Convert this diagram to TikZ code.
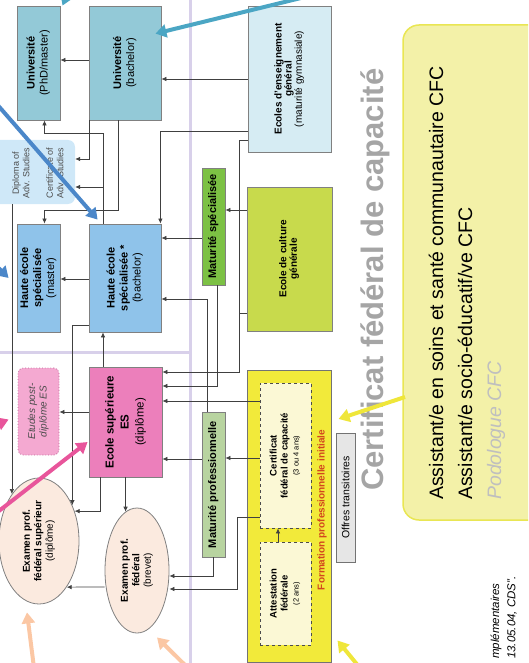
\documentclass[tikz,border=0pt]{standalone}
\usepackage{fontspec}
\setmainfont{Liberation Sans}
\usetikzlibrary{arrows.meta,shapes.geometric}
\definecolor{unicol}{HTML}{93C9D7}
\definecolor{egcol}{HTML}{D6ECF3}
\definecolor{hescol}{HTML}{8FC3EA}
\definecolor{dascol}{HTML}{CFE8F8}
\definecolor{mscol}{HTML}{7CC144}
\definecolor{ecgcol}{HTML}{C8DA4C}
\definecolor{escol}{HTML}{EC7FBB}
\definecolor{epdcol}{HTML}{F4A9D1}
\definecolor{mpcol}{HTML}{B8D4A0}
\definecolor{fpicol}{HTML}{F2EA3A}
\definecolor{innercol}{HTML}{FBF8D5}
\definecolor{otcol}{HTML}{E6E6E6}
\definecolor{examcol}{HTML}{FBEADF}
\definecolor{callfill}{HTML}{F3F1A8}
\definecolor{callborder}{HTML}{E9E653}
\definecolor{lav}{HTML}{D8D0EA}
\definecolor{titlegrey}{HTML}{A5A5A5}
\definecolor{fpired}{HTML}{D2461E}
\definecolor{tealarr}{HTML}{4BA6C4}
\definecolor{bluearr}{HTML}{4B87C9}
\definecolor{pinkarr}{HTML}{E8559B}
\definecolor{peacharr}{HTML}{FBC7A4}
\definecolor{yelarr}{HTML}{EFE63A}
\newcommand{\vtxt}[1]{\rotatebox{90}{\begin{tabular}{@{}c@{}}#1\end{tabular}}}
\tikzset{
  box/.style={draw=black!50, line width=0.8pt, inner sep=0pt, align=center},
  conn/.style={draw=black!75, line width=0.7pt, -{Latex[length=5pt,width=4.5pt]}},
  plain/.style={draw=black!75, line width=0.7pt},
  sepline/.style={draw=lav, line width=3pt},
  bigarrow/.style={line width=4pt, -{Triangle[length=11pt,width=13pt]}},
  f11/.style={font=\fontsize{11}{13}\selectfont},
  f10/.style={font=\fontsize{10}{11.5}\selectfont}
}
\begin{document}
\begin{tikzpicture}[x=1pt,y=-1pt]
\useasboundingbox (0,0) rectangle (528,663);
\clip (0,0) rectangle (528,663);
\draw[sepline] (190,0) -- (190,663);
\draw[sepline] (0,352) -- (190,352);

\node[box, f11, fill=unicol, minimum width=43, minimum height=114] (phd) at (38.5,63) {\vtxt{\textbf{Université}\\(PhD/master)}};
\node[box, f11, fill=unicol, minimum width=72, minimum height=114] (ub) at (125,63) {\vtxt{\textbf{Université}\\(bachelor)}};
\node[box, fill=egcol, minimum width=83, minimum height=146, font=\fontsize{10}{9.5}\selectfont] (eg) at (289.5,79) {\vtxt{\textbf{Ecoles d'enseignement}\\\textbf{général}\\(maturité gymnasiale)}};
\node[fill=dascol, rounded corners=7, minimum width=85, minimum height=64, inner sep=0pt] (das) at (32.5,172) {};
\node[font=\fontsize{9}{10.5}\selectfont, text=black!70] (dasd) at (22,173) {\vtxt{Diploma of\\Adv. Studies}};
\node[font=\fontsize{9}{10.5}\selectfont, text=black!70] (dasc) at (56,173) {\vtxt{Certificate of\\Adv. Studies}};
\node[box, f11, fill=hescol, minimum width=43, minimum height=108] (hesm) at (38.5,278) {\vtxt{\textbf{Haute école}\\\textbf{spécialisée}\\(master)}};
\node[box, f11, fill=hescol, minimum width=72, minimum height=108] (hesb) at (125,278) {\vtxt{\textbf{Haute école}\\\textbf{spécialisée *}\\(bachelor)}};
\node[box, f11, fill=mscol, minimum width=23, minimum height=117] (ms) at (213.5,226.5) {\vtxt{\textbf{Maturité spécialisée}}};
\node[box, fill=ecgcol, minimum width=85, minimum height=144, font=\fontsize{10}{10}\selectfont] (ecg) at (289.5,259) {\vtxt{\textbf{Ecole de culture}\\\textbf{générale}}};
\node[draw=escol!80!black, dotted, thick, fill=epdcol, rounded corners=5, minimum width=41, minimum height=87, inner sep=0pt, f10, text=black!70] (epd) at (38.5,411.5) {\vtxt{\textit{Etudes post-}\\\textit{diplôme ES}}};
\node[box, fill=escol, minimum width=73, minimum height=110, font=\fontsize{11.5}{15}\selectfont] (es) at (125.5,422) {\vtxt{\textbf{Ecole supérieure}\\\textbf{ES}\\(diplôme)}};
\node[box, f11, fill=mpcol, minimum width=23, minimum height=145] (mp) at (213.5,484.5) {\vtxt{\textbf{Maturité professionnelle}}};
\node[box, ellipse, f10, fill=examcol, minimum width=80, minimum height=126] (eps) at (39,541) {\vtxt{\textbf{Examen prof.}\\\textbf{fédéral supérieur}\\(diplôme)}};
\node[box, ellipse, f10, fill=examcol, minimum width=64, minimum height=125] (epf) at (137,570.5) {\vtxt{\textbf{Examen prof.}\\\textbf{fédéral}\\(brevet)}};
\node[draw=black!55, line width=1pt, fill=fpicol, minimum width=84, minimum height=292, inner sep=0pt] (fpi) at (289,516) {};
\node[draw=black!70, dashed, line width=0.8pt, fill=innercol, minimum width=51, minimum height=145, inner sep=0pt, font=\fontsize{9.5}{11}\selectfont] (cfc) at (285.5,455.5) {\vtxt{\textbf{Certificat}\\\textbf{fédéral de capacité}\\{\fontsize{7.5}{9}\selectfont(3 ou 4 ans)}}};
\node[draw=black!70, dashed, line width=0.8pt, fill=innercol, minimum width=51, minimum height=103, inner sep=0pt, font=\fontsize{9.5}{11}\selectfont] (af) at (285.5,593.5) {\vtxt{\textbf{Attestation}\\\textbf{fédérale}\\{\fontsize{7.5}{9}\selectfont(2 ans)}}};
\node[font=\bfseries\fontsize{10}{10}\selectfont, text=fpired, inner sep=0pt] (fpilabel) at (322,510) {\rotatebox{90}{Formation professionnelle initiale}};
\node[draw=black!55, fill=otcol, minimum width=19, minimum height=129, inner sep=0pt, font=\fontsize{10.5}{10.5}\selectfont] (ot) at (345.5,497.5) {\rotatebox{90}{Offres transitoires}};

\node[draw=callborder, fill=callfill, rounded corners=16, line width=1.5pt, minimum width=150, minimum height=495] (callout) at (478,272.5) {};
\node[anchor=south, inner sep=0pt, text=titlegrey, font=\bfseries\fontsize{31}{31}\selectfont] (title) at (375,491) {\rotatebox{90}{Certificat fédéral de capacité}};
\node[anchor=south, inner sep=0pt, font=\fontsize{19.5}{20}\selectfont] (job1) at (436,500) {\rotatebox{90}{Assistant/e en soins et santé communautaire CFC}};
\node[anchor=south, inner sep=0pt, font=\fontsize{19.5}{20}\selectfont] (job2) at (465,500) {\rotatebox{90}{Assistant/e socio-éducatif/ve CFC}};
\node[anchor=south, inner sep=0pt, text=black!25, font=\itshape\fontsize{19.5}{20}\selectfont] (job3) at (496,500) {\rotatebox{90}{Podologue CFC}};
\node[anchor=south, inner sep=0pt, font=\itshape\fontsize{11.5}{12}\selectfont] (note1) at (496,659) {\rotatebox{90}{mplémentaires}};
\node[anchor=south, inner sep=0pt, font=\itshape\fontsize{11.5}{12}\selectfont] (note2) at (512,659) {\rotatebox{90}{13.05.04, CDS''.}};

\draw[conn] (ub.west |- 0,60) -- (phd.east |- 0,60);
\draw[conn] (eg.west |- 0,79) -- (ub.east |- 0,79);
\draw[conn] (eg.west |- 0,131) -| ([xshift=-1pt]hesb.north east);
\draw[conn] (ub.south -| 118,0) -- (118,210) -| ([xshift=6pt]hesm.north);
\draw[conn] (hesb.north -| 103,0) -- (103,133) -| ([xshift=6pt]phd.south);
\draw[conn] ([xshift=1pt]ub.south west) |- (das.east |- 0,159);
\coordinate (j1) at (103,187);
\draw[conn] (j1) -- (das.east |- 0,187);
\draw[conn] (das.south -| eps.120) -- (eps.120);
\draw[conn] (hesb.west |- 0,325) -| (eps.47);
\draw[conn] (es.west |- 0,412) -- (epd.east |- 0,412);
\draw[conn] (es.south -| 100,0) |- (eps.40);
\draw[conn] (es.south -| epf.101) -- (epf.101);
\draw[conn] (epf.west |- 0,587) -- (eps.-59);
\draw[conn] (es.north -| 103,0) -- (hesb.south -| 103,0);
\draw[conn] (hesb.west |- 0,279) -- (hesm.east |- 0,279);
\draw[conn] (ms.west |- 0,238) -- (hesb.east |- 0,238);
\draw[conn] (ecg.west |- 0,210) -- (ms.east |- 0,210);
\draw[conn] (mp.north -| 207,0) |- (hesb.east |- 0,299);
\draw[conn] (eg.west |- 0,140) -- (239,140) |- (es.east |- 0,372);
\coordinate (j2) at (239,313);
\draw[plain] (ecg.west |- 0,313) -- (j2);
\draw[conn] (ms.south -| 217,0) |- (es.east |- 0,386);
\draw[conn] (cfc.west |- 0,401) -- (es.east |- 0,401);
\draw[conn] (cfc.west |- 0,458) -- (mp.east |- 0,458);
\draw[conn] (mp.west |- 0,459) -- (es.east |- 0,459);
\draw[conn] (mp.south -| 213,0) |- (epf.east |- 0,576);
\draw[conn] (cfc.west |- 0,517) -- (237,517) |- (epf.east |- 0,589);
\draw[conn] (af.north -| 278,0) -- (cfc.south -| 278,0);

\coordinate (teal1) at (305,-3);
\coordinate (teal2) at (74,-22);
\coordinate (blue1) at (-5,102);
\coordinate (blue2) at (-25,245);
\coordinate (pink1) at (-5,514);
\coordinate (pink2) at (-22,432);
\coordinate (peach1) at (34,668);
\coordinate (peach2) at (188,668);
\coordinate (yel1) at (405,397);
\coordinate (yel2) at (360,668);
\draw[bigarrow, tealarr] (teal1) -- ([xshift=-6pt,yshift=-28pt]ub.north east);
\draw[bigarrow, tealarr] (teal2) -- ([xshift=24pt]phd.north);
\draw[bigarrow, bluearr] (blue1) -- ([xshift=9pt,yshift=4pt]hesb.north west);
\draw[bigarrow, bluearr] (blue2) -- ([xshift=-8pt]hesm.west);
\draw[bigarrow, pinkarr] (pink1) -- ([xshift=-1pt,yshift=-20pt]es.west);
\draw[bigarrow, pinkarr] (pink2) -- ([xshift=-9pt,yshift=-8pt]epd.west);
\draw[bigarrow, peacharr] (peach1) -- ([xshift=-12pt,yshift=-8pt]eps.south);
\draw[bigarrow, peacharr] (peach2) -- ([xshift=20pt,yshift=-4pt]epf.south);
\draw[bigarrow, yelarr] (yel1) -- ([xshift=7pt,yshift=97pt]fpi.east);
\draw[bigarrow, yelarr] (yel2) -- ([xshift=6pt,yshift=22pt]fpi.south east);
\end{tikzpicture}
\end{document}
